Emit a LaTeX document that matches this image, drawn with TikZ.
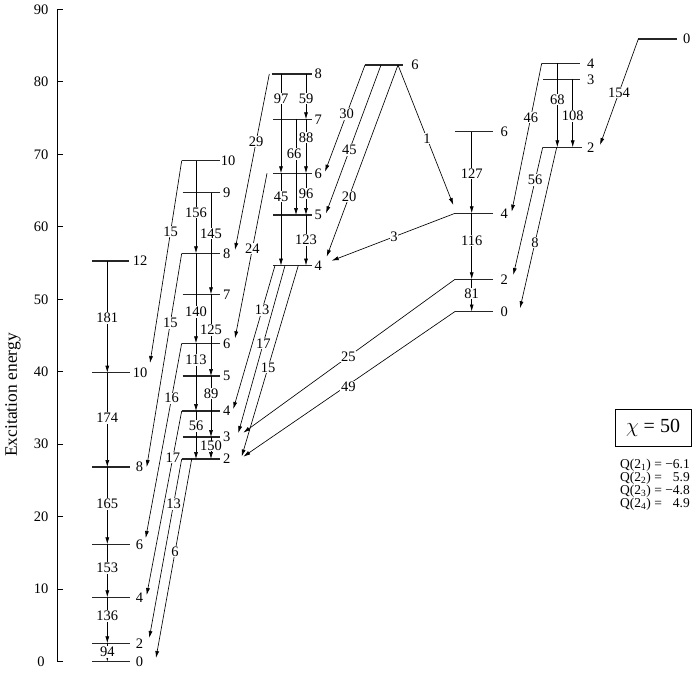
\documentclass[tikz,border=0pt]{standalone}
\usepackage{fontspec}
\setmainfont{Liberation Serif}
\usetikzlibrary{arrows.meta}
\tikzset{
  level/.style={line width=1.35pt,black!85},
  tr/.style={line width=0.65pt,-{Latex[length=7pt,width=4pt]}},
  lab/.style={fill=white,inner sep=0.8pt,font=\fontsize{14.5}{15}\selectfont},
  lvlab/.style={inner sep=0pt,font=\fontsize{14.5}{15}\selectfont},
  axislab/.style={inner sep=0pt,font=\fontsize{14.5}{15}\selectfont},
  qtxt/.style={inner sep=0pt,anchor=east,font=\fontsize{13.5}{14}\selectfont}
}
\newcommand\mklevel[6]{%
  \coordinate (#1l) at (#2,#4);
  \coordinate (#1r) at (#3,#4);
  \draw[level] (#1l) -- (#1r);
  \node[lvlab] (#1t) at (#5,#4) {#6};
}
\begin{document}
\begin{tikzpicture}[x=1pt,y=-1pt]
\useasboundingbox (0,0) rectangle (692,673);
% axis
\coordinate (axt) at (57,9.3);
\coordinate (axb) at (57,661.7);
\draw[line width=0.9pt] (axt) -- (axb);
\foreach \k in {0,...,9}{
  \pgfmathsetmacro\yy{661.7-72.489*\k}
  \coordinate (tk\k) at (57,\yy);
  \coordinate (te\k) at (63,\yy);
  \draw[line width=0.9pt] (tk\k) -- (te\k);
  \pgfmathtruncatemacro\vv{10*\k}
  \node[axislab] (tl\k) at (41,\yy) {\vv};
}
\node[rotate=90,inner sep=0pt,font=\fontsize{17.5}{18}\selectfont] (ytitle) at (13,395) {Excitation energy};

% ground band
\mklevel{G0}{92}{129.5}{661.7}{139.5}{0}
\mklevel{G2}{92}{129.5}{643.3}{139.5}{2}
\mklevel{G4}{92}{129.5}{597.3}{139.5}{4}
\mklevel{G6}{92}{129.5}{544.3}{139.5}{6}
\mklevel{G8}{92}{129.5}{467}{139.5}{8}
\mklevel{G10}{92}{129.5}{372.7}{140}{10}
\mklevel{G12}{92}{128.5}{261}{140}{12}
% gamma band
\mklevel{B2}{181.7}{220}{459}{226.7}{2}
\mklevel{B3}{182.7}{220}{437}{226.7}{3}
\mklevel{B4}{181.7}{220}{411}{226.7}{4}
\mklevel{B5}{182.7}{220}{376}{226.7}{5}
\mklevel{B6}{181.7}{220}{343.3}{226.7}{6}
\mklevel{B7}{182.7}{220}{294.3}{226.7}{7}
\mklevel{B8}{181.7}{220}{253.3}{226.7}{8}
\mklevel{B9}{182.7}{220}{192.7}{226.7}{9}
\mklevel{B10}{181.7}{220}{160.7}{228}{10}
% third band
\mklevel{C4}{273.3}{311.7}{265.5}{318.3}{4}
\mklevel{C5}{273.3}{311.7}{215}{318.3}{5}
\mklevel{C6}{273.3}{311.7}{173.3}{318.3}{6}
\mklevel{C7}{273.3}{311.7}{119.3}{318.3}{7}
\mklevel{C8}{271.7}{311.7}{74}{318.3}{8}
% top 6
\mklevel{D6}{365}{403}{65}{415}{6}
% fourth band
\mklevel{E0}{455}{493.3}{311.5}{504.3}{0}
\mklevel{E2}{455}{493.3}{279.3}{504.3}{2}
\mklevel{E4}{455}{493.3}{213.3}{504.3}{4}
\mklevel{E6}{455}{493.3}{131.7}{504.3}{6}
% fifth band
\mklevel{F2}{542.7}{581.7}{147.3}{590.7}{2}
\mklevel{F3}{543.3}{580}{79.3}{590.7}{3}
\mklevel{F4}{541.7}{580}{63.3}{590.7}{4}
% top 0
\mklevel{H0}{638.3}{676.7}{39}{686.7}{0}

% x positions of vertical cascades
\coordinate (gx) at (107.3,0);
\coordinate (bx1) at (196,0);
\coordinate (bx2) at (211,0);
\coordinate (cxa) at (281,0);
\coordinate (cxb) at (296,0);
\coordinate (cxc) at (306,0);
\coordinate (ex) at (471.7,0);
\coordinate (fx1) at (557.3,0);
\coordinate (fx2) at (572.7,0);

% ground band cascade
\draw[tr] (gx |- G12l) -- node[lab,pos=0.51]{181} (gx |- G10l);
\draw[tr] (gx |- G10l) -- node[lab,pos=0.48]{174} (gx |- G8l);
\draw[tr] (gx |- G8l) -- node[lab,pos=0.479]{165} (gx |- G6l);
\draw[tr] (gx |- G6l) -- node[lab,pos=0.447]{153} (gx |- G4l);
\draw[tr] (gx |- G4l) -- node[lab,pos=0.407]{136} (gx |- G2l);
\draw[tr] (gx |- G2l) -- node[lab,pos=0.47]{94} (gx |- G0l);

% gamma band cascade
\draw[tr] (bx1 |- B10l) -- node[lab,pos=0.56]{156} (bx1 |- B8l);
\draw[tr] (bx1 |- B8l) -- node[lab,pos=0.65]{140} (bx1 |- B6l);
\draw[tr] (bx1 |- B6l) -- node[lab,pos=0.247]{113} (bx1 |- B4l);
\draw[tr] (bx1 |- B4l) -- node[lab,pos=0.31]{56} (bx1 |- B2l);
\draw[tr] (bx2 |- B9l) -- node[lab,pos=0.40]{145} (bx2 |- B7l);
\draw[tr] (bx2 |- B7l) -- node[lab,pos=0.437]{125} (bx2 |- B5l);
\draw[tr] (bx2 |- B5l) -- node[lab,pos=0.284]{89} (bx2 |- B3l);
\draw[tr] (bx2 |- B3l) -- node[lab,pos=0.395,inner sep=0.3pt]{150} (bx2 |- B2l);

% gamma -> ground
\coordinate (gA) at (150,363);
\coordinate (gB) at (146.7,467);
\coordinate (gC) at (145.7,538);
\coordinate (gD) at (146.7,595);
\coordinate (gE) at (149.3,638);
\coordinate (gF) at (156,658);
\coordinate (bS) at (191.7,459);
\draw[tr] (B10l) -- node[lab,pos=0.351]{15} (gA);
\draw[tr] (B8l) -- node[lab,pos=0.326]{15} (gB);
\draw[tr] (B6l) -- node[lab,pos=0.282]{16} (gC);
\draw[tr] (B4l) -- node[lab,pos=0.254]{17} (gD);
\draw[tr] (B2l) -- node[lab,pos=0.251]{13} (gE);
\draw[tr] (bS) -- node[lab,pos=0.466]{6} (gF);

% third band cascade
\draw[tr] (cxa |- C8l) -- node[lab,pos=0.245]{97} (cxa |- C6l);
\draw[tr] (cxc |- C8l) -- node[lab,pos=0.536]{59} (cxc |- C7l);
\draw[tr] (cxc |- C7l) -- node[lab,pos=0.333]{88} (cxc |- C6l);
\draw[tr] (cxb |- C7l) -- node[lab,pos=0.363,xshift=-2pt]{66} (cxb |- C5l);
\draw[tr] (cxa |- C6l) -- node[lab,pos=0.254]{45} (cxa |- C4l);
\draw[tr] (cxc |- C6l) -- node[lab,pos=0.48]{96} (cxc |- C5l);
\draw[tr] (cxc |- C5l) -- node[lab,pos=0.495]{123} (cxc |- C4l);

% third -> gamma
\coordinate (c29s) at (269.3,74);
\coordinate (c24s) at (267,173.3);
\coordinate (c13s) at (275,265.5);
\coordinate (c17s) at (285,265.5);
\coordinate (c15s) at (298.3,265.5);
\coordinate (b29e) at (235,250);
\coordinate (b24e) at (235,338.3);
\coordinate (b13e) at (233.3,409);
\coordinate (b17e) at (238.3,433);
\coordinate (b15e) at (241.7,456.5);
\draw[tr] (c29s) -- node[lab,pos=0.385]{29} (b29e);
\draw[tr] (c24s) -- node[lab,pos=0.4545]{24} (b24e);
\draw[tr] (c13s) -- node[lab,pos=0.31]{13} (b13e);
\draw[tr] (c17s) -- node[lab,pos=0.464]{17} (b17e);
\draw[tr] (c15s) -- node[lab,pos=0.534]{15} (b15e);

% top 6 decays
\coordinate (d45s) at (381,65);
\coordinate (dap) at (398,65);
\coordinate (c30e) at (325,171.7);
\coordinate (c45e) at (326,213.3);
\coordinate (c20e) at (326.7,256.7);
\coordinate (e1e) at (453.3,205);
\draw[tr] (D6l) -- node[lab,pos=0.459]{30} (c30e);
\draw[tr] (d45s) -- node[lab,pos=0.573]{45} (c45e);
\draw[tr] (dap) -- node[lab,pos=0.687]{20} (c20e);
\draw[tr] (dap) -- node[lab,pos=0.524]{1} (e1e);

% fourth band
\draw[tr] (ex |- E6l) -- node[lab,pos=0.51]{127} (ex |- E4l);
\draw[tr] (ex |- E4l) -- node[lab,pos=0.415]{116} (ex |- E2l);
\draw[tr] (ex |- E2l) -- node[lab,pos=0.435]{81} (ex |- E0l);
\coordinate (c3e) at (331.7,260.7);
\coordinate (b25e) at (243.3,432.7);
\coordinate (b49e) at (243.3,456.7);
\draw[tr] (E4l) -- node[lab,pos=0.495]{3} (c3e);
\draw[tr] (E2l) -- node[lab,pos=0.504]{25} (b25e);
\draw[tr] (E0l) -- node[lab,pos=0.504,yshift=-2pt]{49} (b49e);

% fifth band
\draw[tr] (fx1 |- F4l) -- node[lab,pos=0.43]{68} (fx1 |- F2l);
\draw[tr] (fx2 |- F3l) -- node[lab,pos=0.54]{108} (fx2 |- F2l);
\coordinate (f8s) at (556.7,147.3);
\coordinate (e46e) at (511.7,211.7);
\coordinate (e56e) at (513.3,275);
\coordinate (e8e) at (520,308.3);
\draw[tr] (F4l) -- node[lab,pos=0.364]{46} (e46e);
\draw[tr] (F2l) -- node[lab,pos=0.256]{56} (e56e);
\draw[tr] (f8s) -- node[lab,pos=0.593]{8} (e8e);

% top 0
\coordinate (f154e) at (600,145);
\draw[tr] (H0l) -- node[lab,pos=0.507]{154} (f154e);

% legend
\node[draw,line width=0.8pt,minimum width=76pt,minimum height=37pt,inner sep=0pt,
      font=\fontsize{20}{21}\selectfont] (chi) at (653,428) {$\chi$ = 50};
\node[qtxt] (q1) at (690,465) {Q(2\textsubscript{1}) = −6.1};
\node[qtxt] (q2) at (690,478) {Q(2\textsubscript{2}) = \phantom{−}5.9};
\node[qtxt] (q3) at (690,491) {Q(2\textsubscript{3}) = −4.8};
\node[qtxt] (q4) at (690,504) {Q(2\textsubscript{4}) = \phantom{−}4.9};
\end{tikzpicture}
\end{document}
